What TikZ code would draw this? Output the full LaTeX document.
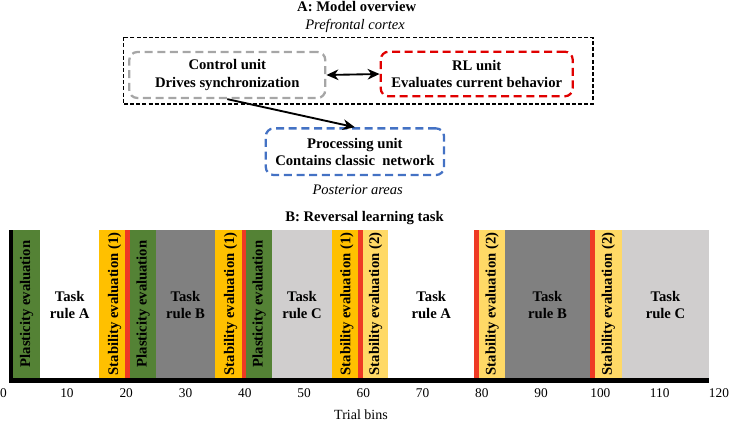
\documentclass[tikz,border=0pt]{standalone}
\usepackage{fontspec}
\setmainfont{Liberation Serif}
\usetikzlibrary{arrows.meta}
\definecolor{pgreen}{HTML}{548235}
\definecolor{sorange}{HTML}{FFC000}
\definecolor{slight}{HTML}{FFD966}
\definecolor{sred}{HTML}{EE3A24}
\definecolor{dgray}{HTML}{808080}
\definecolor{lgray}{HTML}{D0CECE}
\definecolor{boxgray}{HTML}{A6A6A6}
\definecolor{boxred}{HTML}{E00000}
\definecolor{boxblue}{HTML}{4472C4}
\begin{document}
\begin{tikzpicture}[x=0.75pt,y=-0.75pt,
  bfont/.style={font=\fontsize{11}{13}\selectfont\bfseries},
  unitbox/.style={bfont, draw, line width=1.7pt, dash pattern=on 6pt off 3.5pt,
    rounded corners=6pt, align=center, inner sep=0pt},
  itlab/.style={font=\fontsize{10.9}{13}\selectfont\itshape, inner sep=0pt},
  ttl/.style={bfont, inner sep=0pt},
  vlab/.style={font=\fontsize{11}{13}\selectfont\bfseries, rotate=90, inner sep=0pt},
  tasklab/.style={font=\fontsize{11}{12.5}\selectfont\bfseries, align=center, inner sep=0pt},
  ticklab/.style={font=\fontsize{10}{12}\selectfont, inner sep=0pt},
  arr/.style={line width=1.4pt, -{Stealth[length=9pt,width=8pt]}},
  darr/.style={line width=1.4pt, {Stealth[length=9pt,width=8pt]}-{Stealth[length=9pt,width=8pt]}}]
\useasboundingbox (0,0) rectangle (731,422);

% ---------- Part A ----------
\node[ttl] (titleA) at (356.7,7) {A: Model overview};
\node[itlab] (pfc) at (355,25.7) {Prefrontal cortex};
\draw[line width=1.2pt, dash pattern=on 3pt off 1.6pt] (123.3,37.3) rectangle (592.7,104);
\node[unitbox, draw=boxgray, minimum width=147pt, minimum height=34.5pt] (ctrl) at (227.3,75)
  {Control unit\\Drives synchronization};
\node[unitbox, draw=boxred, minimum width=144pt, minimum height=33.5pt] (rl) at (476.7,74)
  {RL unit\\Evaluates current behavior};
\node[unitbox, draw=boxblue, minimum width=133.7pt, minimum height=35pt] (proc) at (354.9,151.7)
  {Processing unit\\Contains classic~ network};
\node[itlab] (post) at (357.7,190) {Posterior areas};
\draw[darr] (ctrl.east) -- (rl.west);
\draw[arr] (ctrl.south) -- (proc.north);

% ---------- Part B ----------
\node[ttl] (titleB) at (364.5,218) {B: Reversal learning task};

\fill[black]   (9.3,230) rectangle (13.3,378);
\fill[pgreen]  (13.3,230) rectangle (40,378);
\fill[sorange] (99.3,230) rectangle (125,378);
\fill[sred]    (125,230) rectangle (130,378);
\fill[pgreen]  (130,230) rectangle (156,378);
\fill[dgray]   (156,230) rectangle (215,378);
\fill[sorange] (215,230) rectangle (241.7,378);
\fill[sred]    (241.7,230) rectangle (246,378);
\fill[pgreen]  (246,230) rectangle (272.3,378);
\fill[lgray]   (272.3,230) rectangle (331.7,378);
\fill[sorange] (331.7,230) rectangle (358.3,378);
\fill[sred]    (358.3,230) rectangle (362.7,378);
\fill[slight]  (362.7,230) rectangle (388.3,378);
\fill[sred]    (474.3,230) rectangle (479.3,378);
\fill[slight]  (479.3,230) rectangle (505,378);
\fill[dgray]   (505,230) rectangle (590,378);
\fill[sred]    (590,230) rectangle (595,378);
\fill[slight]  (595,230) rectangle (621.7,378);
\fill[lgray]   (621.7,230) rectangle (709.3,378);

% axis line
\fill[black] (9.3,377.5) rectangle (709.3,382.5);

% vertical labels
\node[vlab] (pe1) at (26.7,304) {Plasticity evaluation};
\node[vlab] (se1) at (114.7,304) {Stability evaluation (1)};
\node[vlab] (pe2) at (143,304) {Plasticity evaluation};
\node[vlab] (se2) at (230.5,304) {Stability evaluation (1)};
\node[vlab] (pe3) at (259.2,304) {Plasticity evaluation};
\node[vlab] (se3) at (346.8,304) {Stability evaluation (1)};
\node[vlab] (ss1) at (375.5,304) {Stability evaluation (2)};
\node[vlab] (ss2) at (492.2,304) {Stability evaluation (2)};
\node[vlab] (ss3) at (608.4,304) {Stability evaluation (2)};

% task labels
\node[tasklab] (ta1) at (69.7,305) {Task\\rule A};
\node[tasklab] (tb1) at (185.5,305) {Task\\rule B};
\node[tasklab] (tc1) at (302,305) {Task\\rule C};
\node[tasklab] (ta2) at (431.3,305) {Task\\rule A};
\node[tasklab] (tb2) at (547.5,305) {Task\\rule B};
\node[tasklab] (tc2) at (665.5,305) {Task\\rule C};

% tick labels
\node[ticklab] (t0) at (3.5,393) {0};
\foreach \t in {10,20,...,120} {
  \node[ticklab] (t\t) at ({7.7+5.927*\t},393) {\t};
}
\node[font=\fontsize{10.5}{12}\selectfont, inner sep=0pt] (xlab) at (361,415) {Trial bins};
\end{tikzpicture}
\end{document}
